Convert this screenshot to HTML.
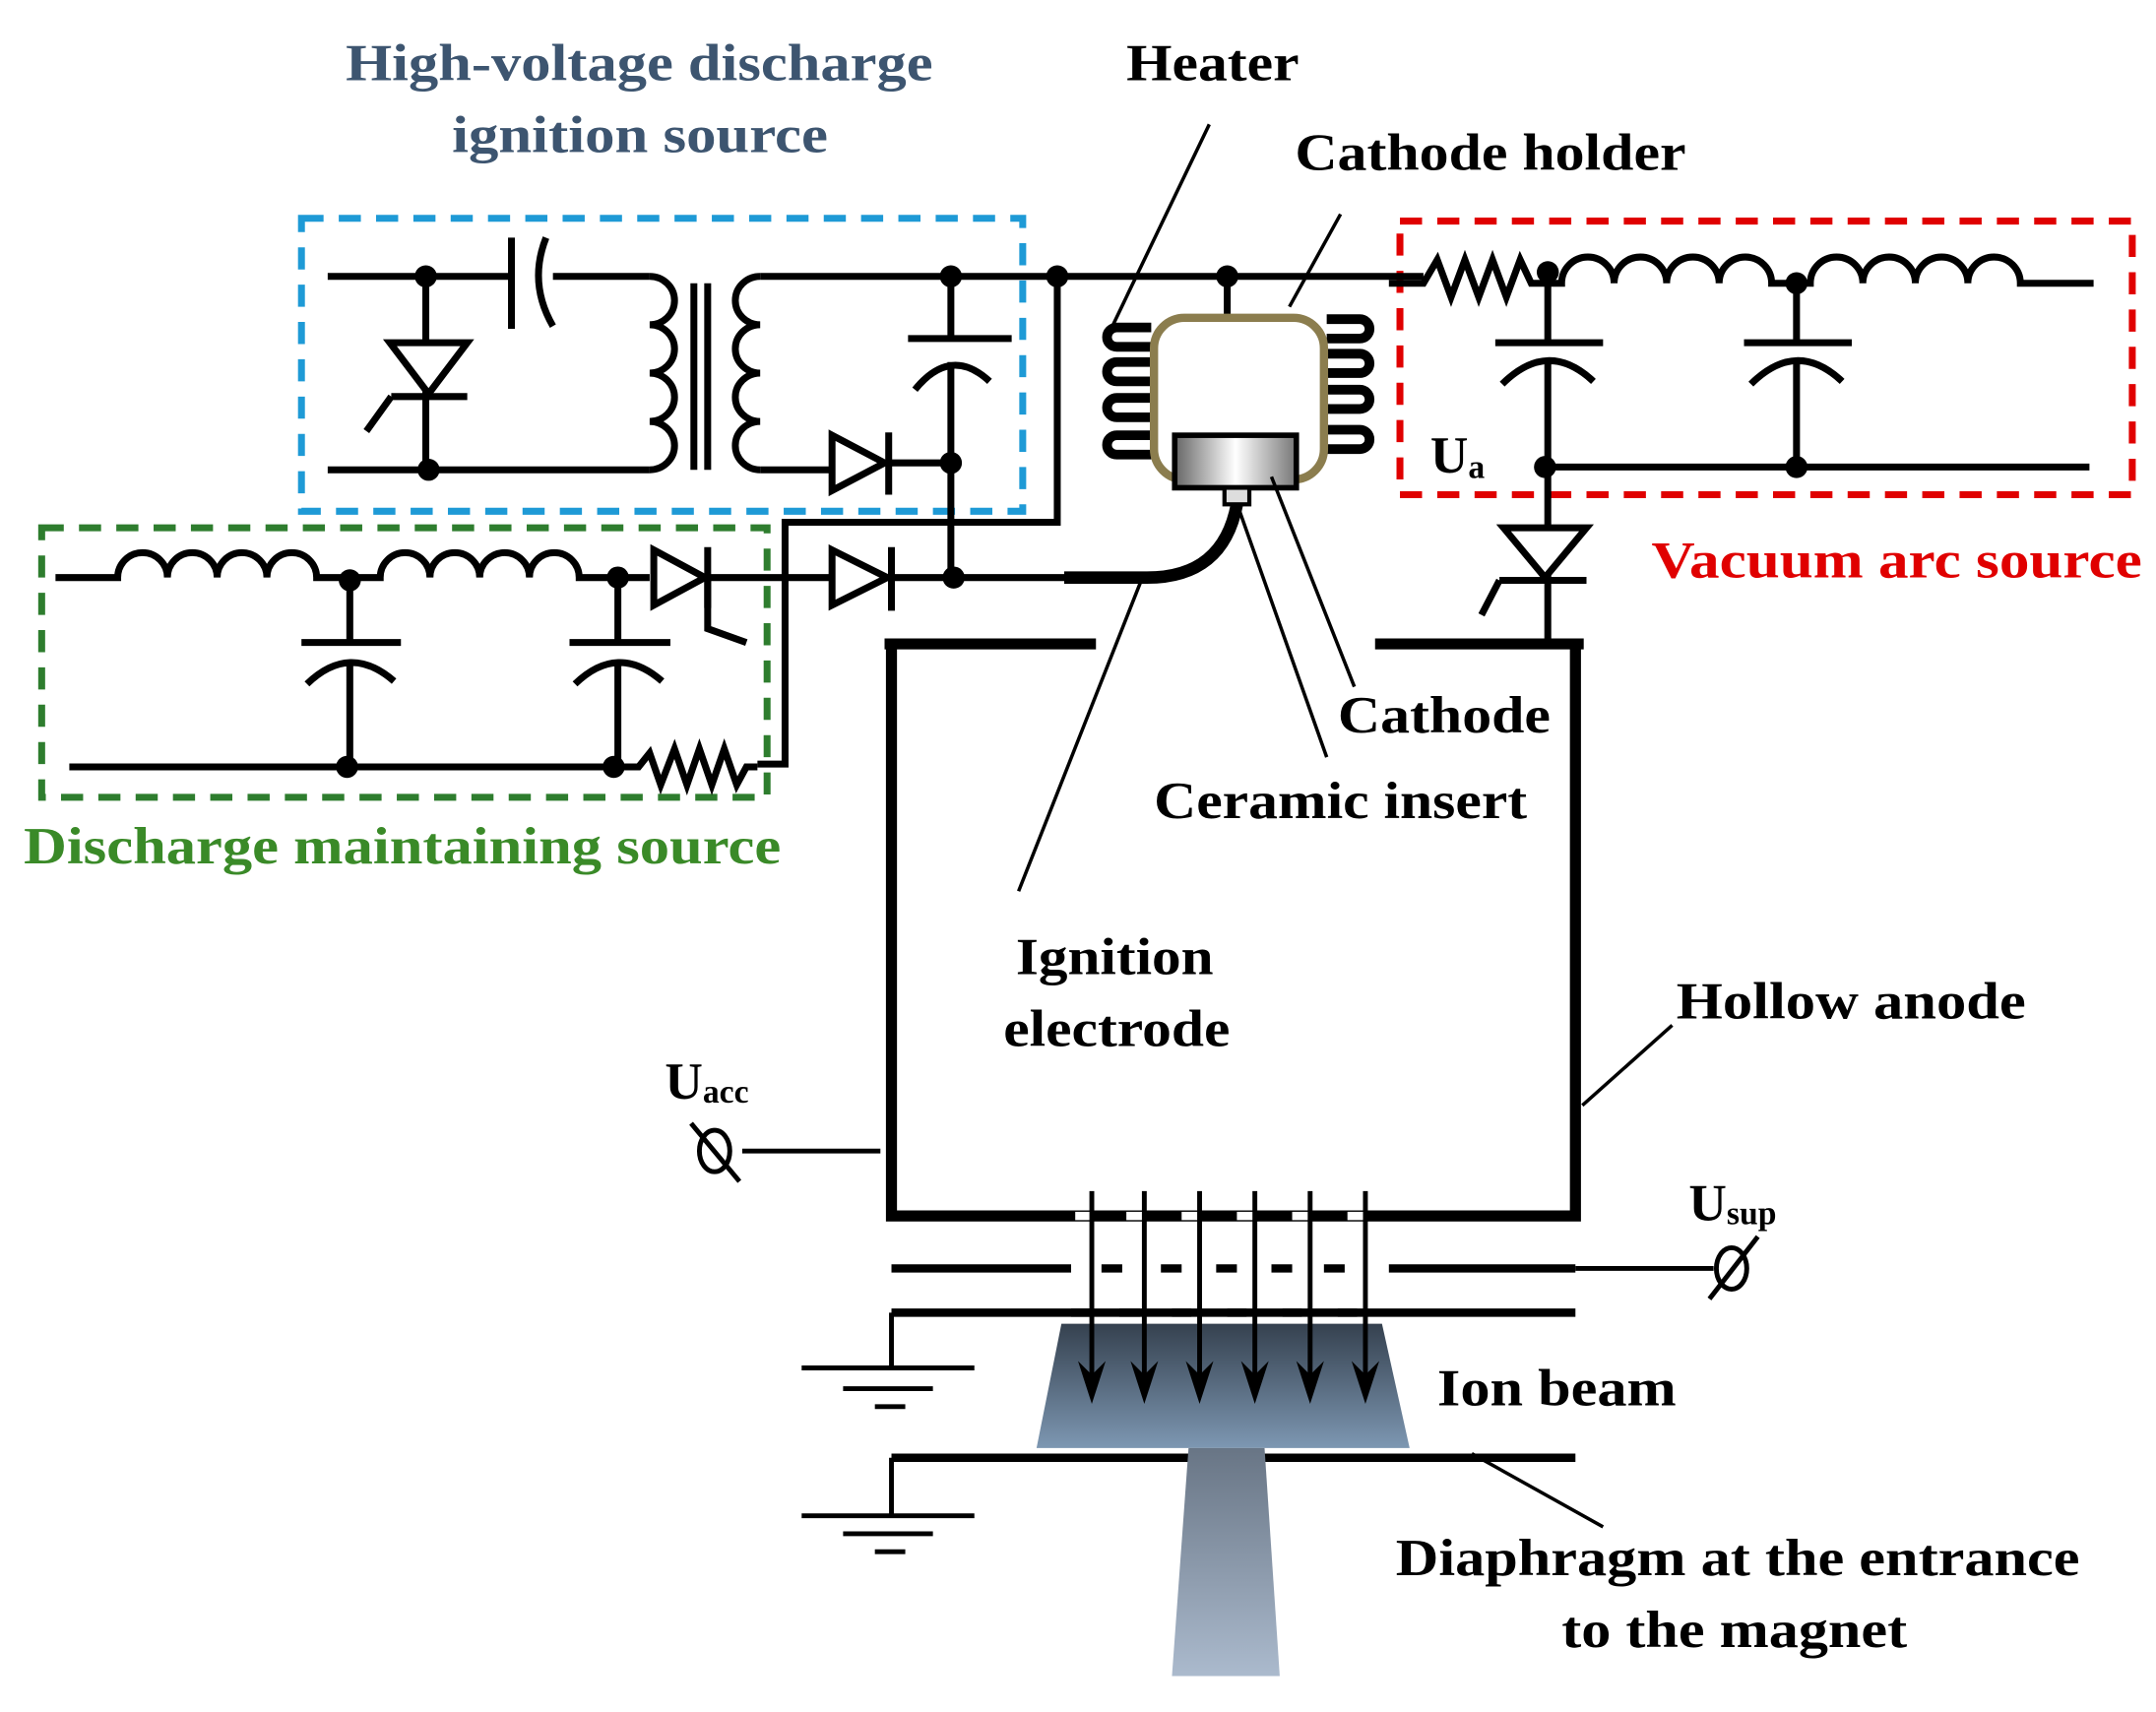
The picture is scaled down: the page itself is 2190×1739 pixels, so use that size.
<!DOCTYPE html>
<html><head><meta charset="utf-8"><style>html,body{margin:0;padding:0;background:#fff}svg{display:block}</style></head>
<body>
<svg width="2190" height="1739" viewBox="0 0 1560 1239" xmlns="http://www.w3.org/2000/svg" font-family="Liberation Serif, serif" font-weight="bold">
<defs>
<linearGradient id="cg" x1="0" x2="1"><stop offset="0" stop-color="#666"/><stop offset="0.5" stop-color="#fff"/><stop offset="1" stop-color="#777"/></linearGradient>
<linearGradient id="bg1" x1="0" y1="0" x2="0" y2="1"><stop offset="0" stop-color="#35414f"/><stop offset="1" stop-color="#7d97b2"/></linearGradient>
<linearGradient id="bg2" x1="0" y1="0" x2="0" y2="1"><stop offset="0" stop-color="#687585"/><stop offset="1" stop-color="#abbacd"/></linearGradient>
</defs>

<g fill="#3d5570" font-size="38">
<text x="250" y="58" textLength="425" lengthAdjust="spacingAndGlyphs">High-voltage discharge</text>
<text x="327" y="110" textLength="272" lengthAdjust="spacingAndGlyphs">ignition source</text>
</g>
<g fill="#000" font-size="38">
<text x="815" y="58" textLength="125" lengthAdjust="spacingAndGlyphs">Heater</text>
<text x="937" y="123" textLength="283" lengthAdjust="spacingAndGlyphs">Cathode holder</text>
<text x="968" y="530" textLength="154" lengthAdjust="spacingAndGlyphs">Cathode</text>
<text x="835" y="592" textLength="270" lengthAdjust="spacingAndGlyphs">Ceramic insert</text>
<text x="735" y="705" textLength="143" lengthAdjust="spacingAndGlyphs">Ignition</text>
<text x="726" y="757" textLength="164" lengthAdjust="spacingAndGlyphs">electrode</text>
<text x="1213" y="737" textLength="253" lengthAdjust="spacingAndGlyphs">Hollow anode</text>
<text x="1040" y="1017" textLength="173" lengthAdjust="spacingAndGlyphs">Ion beam</text>
<text x="1010" y="1140" textLength="495" lengthAdjust="spacingAndGlyphs">Diaphragm at the entrance</text>
<text x="1130" y="1192" textLength="250" lengthAdjust="spacingAndGlyphs">to the magnet</text>
<text x="481" y="795">U<tspan font-size="24" dy="3">acc</tspan></text>
<text x="1222" y="883">U<tspan font-size="24" dy="3">sup</tspan></text>
<text x="1035" y="342">U<tspan font-size="24" dy="4">a</tspan></text>
</g>
<text x="1195" y="418" fill="#e00000" font-size="38" textLength="355" lengthAdjust="spacingAndGlyphs">Vacuum arc source</text>
<text x="17" y="625" fill="#3a8a28" font-size="38" textLength="548" lengthAdjust="spacingAndGlyphs">Discharge maintaining source</text>

<g fill="none" stroke-width="5" stroke-dasharray="16,11">
<rect x="218" y="158" width="522" height="212" stroke="#1e9ad6"/>
<rect x="1013" y="160" width="530" height="198" stroke="#e00000"/>
<rect x="30" y="382" width="525" height="195" stroke="#2e7d2e"/>
</g>

<g fill="none" stroke="#000" stroke-width="5">
<path d="M237,200 H370 M370,172 V238 M395,172 Q382,205 400,236 M400,200 H470"/>
<path d="M308,200 V340 M237,340 H470"/>
<path d="M470,200 a18,17.5 0 0 1 0,35 a18,17.5 0 0 1 0,35 a18,17.5 0 0 1 0,35 a18,17.5 0 0 1 0,35"/>
<path d="M502,205 V340 M512,205 V340"/>
<path d="M550,200 a18,17.5 0 0 0 0,35 a18,17.5 0 0 0 0,35 a18,17.5 0 0 0 0,35 a18,17.5 0 0 0 0,35"/>
<path d="M550,200 H1030"/>
<path d="M688,200 V245 M657,245 H732 M662,282 Q688,250 716,276 M688,262 V420"/>
<path d="M550,340 H600 M643,335 H688"/>
<path d="M765,200 V378 H568 V553 H548"/>
<path d="M568,418 H600 M645,418 H772"/>
<path d="M40,418 H85 a18,18 0 0 1 36,0 a18,18 0 0 1 36,0 a18,18 0 0 1 36,0 a18,18 0 0 1 36,0 H275 a18,18 0 0 1 36,0 a18,18 0 0 1 36,0 a18,18 0 0 1 36,0 a18,18 0 0 1 36,0 H470 M512,418 H568"/>
<path d="M253,418 V465 M218,465 H290 M222,495 Q253,465 285,493 M253,480 V555"/>
<path d="M447,418 V465 M412,465 H485 M416,495 Q447,465 479,493 M447,480 V555"/>
<path d="M50,555 H462 L470,545 L478,568 L488,542 L497,568 L506,542 L515,568 L524,542 L533,568 L540,555 H548"/>
<path d="M512,418 V455 L540,465"/>
<path d="M1005,205 H1030 L1040,188 L1050,215 L1060,188 L1070,215 L1080,188 L1090,215 L1100,188 L1108,205 H1130 a19,19 0 0 1 38,0 a19,19 0 0 1 38,0 a19,19 0 0 1 38,0 a19,19 0 0 1 38,0 H1310 a19,19 0 0 1 38,0 a19,19 0 0 1 38,0 a19,19 0 0 1 38,0 a19,19 0 0 1 38,0 H1515"/>
<path d="M1120,200 V248 M1082,248 H1160 M1087,278 Q1120,245 1153,276 M1120,262 V466"/>
<path d="M1300,205 V248 M1262,248 H1340 M1267,278 Q1300,245 1333,276 M1300,262 V338"/>
<path d="M1118,338 H1512"/>
<path d="M1085,420 H1148 M1085,420 L1072,445"/>
<path d="M888,200 V230"/>
<path d="M283,287 H338 M283,287 L265,312"/>
</g>
<g fill="#fff" stroke="#000" stroke-width="5">
<path d="M282,248 H338 L310,285 Z"/>
<path d="M602,315 L640,335 L602,355 Z"/>
<path d="M602,398 L642,418 L602,438 Z"/>
<path d="M473,398 L510,418 L473,438 Z"/>
<path d="M1088,382 H1148 L1118,418 Z"/>
</g>
<g stroke="#000" stroke-width="5"><path d="M643,313 V358 M645,396 V442 M512,396 V440"/></g>
<g fill="#000">
<circle cx="308" cy="200" r="8"/><circle cx="310" cy="340" r="8"/><circle cx="688" cy="200" r="8"/><circle cx="765" cy="200" r="8"/><circle cx="888" cy="200" r="8"/>
<circle cx="688" cy="335" r="8"/><circle cx="690" cy="418" r="8"/>
<circle cx="253" cy="420" r="8"/><circle cx="447" cy="418" r="8"/><circle cx="251" cy="555" r="8"/><circle cx="444" cy="555" r="8"/>
<circle cx="1120" cy="197" r="8"/><circle cx="1300" cy="205" r="8"/><circle cx="1118" cy="338" r="8"/><circle cx="1300" cy="338" r="8"/>
</g>
<!-- heater coils -->
<g fill="none" stroke="#000" stroke-width="7">
<path d="M833,237 H808 a7,7 0 0 0 0,14 H833"/>
<path d="M833,262 H808 a7,7 0 0 0 0,14 H833"/>
<path d="M833,288 H808 a7,7 0 0 0 0,14 H833"/>
<path d="M833,315 H808 a7,7 0 0 0 0,14 H833"/>
<path d="M960,231 H984 a7,7 0 0 1 0,14 H960"/>
<path d="M960,256 H984 a7,7 0 0 1 0,14 H960"/>
<path d="M960,282 H984 a7,7 0 0 1 0,14 H960"/>
<path d="M960,311 H984 a7,7 0 0 1 0,14 H960"/>
</g>
<rect x="835" y="230" width="123" height="117" rx="22" fill="none" stroke="#8b7d4e" stroke-width="6"/>
<rect x="850" y="315" width="88" height="38" fill="url(#cg)" stroke="#000" stroke-width="4"/>
<rect x="886" y="353" width="18" height="12" fill="#ddd" stroke="#000" stroke-width="3"/>
<path d="M770,418 H830 Q885,418 895,365" fill="none" stroke="#000" stroke-width="9"/>
<g stroke="#000" stroke-width="2.5">
<line x1="875" y1="90" x2="803" y2="240"/>
<line x1="970" y1="155" x2="933" y2="222"/>
<line x1="920" y1="345" x2="980" y2="497"/>
<line x1="897" y1="370" x2="960" y2="548"/>
<line x1="825" y1="422" x2="737" y2="645"/>
<line x1="1145" y1="800" x2="1210" y2="742"/>
<line x1="1065" y1="1052" x2="1160" y2="1105"/>
</g>
<g fill="none" stroke="#000" stroke-width="8">
<path d="M640,466 H793 M995,466 H1146"/>
<path d="M645,466 V880 M1140,466 V880 M641,880 H1144"/>
</g>
<g fill="#fff"><rect x="778" y="877" width="12" height="6"/><rect x="815" y="877" width="12" height="6"/><rect x="855" y="877" width="12" height="6"/><rect x="895" y="877" width="12" height="6"/><rect x="935" y="877" width="12" height="6"/><rect x="975" y="877" width="12" height="6"/></g>
<g stroke="#000" stroke-width="6" fill="none">
<path d="M645,918 H775 M1005,918 H1140 M645,950 H1140 M645,1055 H1140"/>
<path d="M797,918 H812 M840,918 H855 M880,918 H895 M920,918 H935 M958,918 H973" />
</g>
<g stroke="#000" stroke-width="3.5" fill="none">
<path d="M1140,918 H1240 M537,833 H637"/>
<path d="M645,950 V990 M645,1055 V1097"/>
<path d="M580,990 H705 M610,1005 H675 M633,1018 H655 M580,1097 H705 M610,1110 H675 M633,1123 H655"/>
<ellipse cx="517" cy="833" rx="11" ry="15"/><line x1="500" y1="813" x2="535" y2="855"/>
<ellipse cx="1253" cy="918" rx="11" ry="15"/><line x1="1272" y1="895" x2="1237" y2="940"/>
</g>
<path d="M768,958 H1000 L1020,1048 H750 Z" fill="url(#bg1)"/>
<path d="M860,1048 H915 L926,1213 H848 Z" fill="url(#bg2)"/>
<g stroke="#000" stroke-width="3.5">
<line x1="790" y1="862" x2="790" y2="995"/><line x1="828" y1="862" x2="828" y2="995"/><line x1="868" y1="862" x2="868" y2="995"/>
<line x1="908" y1="862" x2="908" y2="995"/><line x1="948" y1="862" x2="948" y2="995"/><line x1="988" y1="862" x2="988" y2="995"/>
</g>
<g fill="#000">
<path d="M780,985 L790,1016 L800,985 L790,995 Z"/>
<path d="M818,985 L828,1016 L838,985 L828,995 Z"/>
<path d="M858,985 L868,1016 L878,985 L868,995 Z"/>
<path d="M898,985 L908,1016 L918,985 L908,995 Z"/>
<path d="M938,985 L948,1016 L958,985 L948,995 Z"/>
<path d="M978,985 L988,1016 L998,985 L988,995 Z"/>
</g>
<g stroke="#000" stroke-width="6"><path d="M775,950 H790 M810,950 H825 M848,950 H862 M888,950 H902 M928,950 H942 M968,950 H982"/></g>
</svg>
</body></html>
